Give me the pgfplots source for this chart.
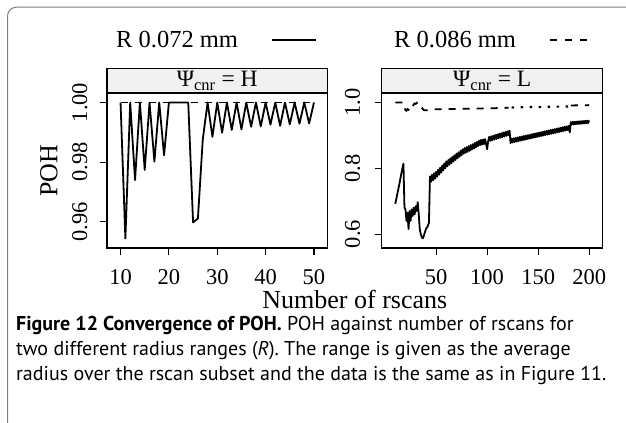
\documentclass[border=0pt]{standalone}
\usepackage{fontspec}
\setmainfont{Liberation Serif}
\newfontfamily\capfont{PT Sans}
\usepackage{pgfplots}
\pgfplotsset{compat=1.18}
\pgfplotsset{
  panel/.style={
    scale only axis, height=155bp,
    axis line style={line width=1.3bp},
    every tick/.style={line width=1.1bp, black},
    major tick length=7bp,
    tick align=outside,
    xtick pos=bottom, ytick pos=left,
    ticklabel style={font=\fontsize{22.5bp}{24bp}\selectfont},
    yticklabel style={rotate=90, anchor=south},
    xticklabel shift=11bp,
    clip=true,
  },
  dat/.style={black, line width=1.8bp, line join=round},
  datd/.style={black, line width=1.8bp, dash pattern=on 7bp off 7bp},
}
\begin{document}
\begin{tikzpicture}[x=1bp,y=1bp]
\useasboundingbox (0,0) rectangle (626,422);
% outer frame
\draw[black!50, line width=1bp, rounded corners=9bp] (7.5,-30) -- (7.5,414.8) -- (680,414.8);

% legend
\node[anchor=base west, inner sep=0, font=\fontsize{24.5bp}{26bp}\selectfont] at (116,375) {R 0.072 mm};
\draw[black, line width=1.8bp] (272,382) -- (316,382);
\node[anchor=base west, inner sep=0, font=\fontsize{24.5bp}{26bp}\selectfont] at (394,375) {R 0.086 mm};
\draw[black, line width=1.8bp, dash pattern=on 7bp off 8bp] (550,382) -- (590,382);

% strips
\draw[line width=1.3bp, fill=black!6] (107,329) rectangle (327.5,353.7);
\node[font=\fontsize{23.5bp}{24bp}\selectfont] at (217.25,341.3) {Ψ\textsubscript{cnr} = H};
\draw[line width=1.3bp, fill=black!6] (381.7,329) rectangle (602.7,353.7);
\node[font=\fontsize{23.5bp}{24bp}\selectfont] at (492.2,341.3) {Ψ\textsubscript{cnr} = L};

% left panel
\begin{axis}[panel, at={(107bp,174bp)}, anchor=south west, width=220.5bp,
  xmin=7.2, xmax=52.8, ymin=0.9512, ymax=1.0032,
  xtick={10,20,30,40,50}, xticklabels={10,20,30,40,50},
  ytick={0.96,0.98,1.00}, yticklabels={0.96,0.98,1.00},
  yticklabel shift=9bp]
\addplot[dat] coordinates {
(10,1.000)(11,0.9544)(12,1.000)(13,0.974)(14,1.000)(15,0.9774)(16,1.000)(17,0.9802)
(18,1.000)(19,0.9823)(20,1.000)(21,1.000)(22,1.000)(23,1.000)(24,1.000)(25,0.9598)
(26,0.9611)(27,0.9875)(28,1.000)(29,0.9885)(30,1.000)(31,0.9899)(32,1.000)(33,0.9908)
(34,1.000)(35,0.9910)(36,1.000)(37,0.9919)(38,1.000)(39,0.9920)(40,1.000)(41,0.9926)
(42,1.000)(43,0.9922)(44,1.000)(45,0.9927)(46,1.000)(47,0.9929)(48,1.000)(49,0.9930)(50,1.000)};
\addplot[datd] coordinates {(10,1.000)(50,1.000)};
\end{axis}

% right panel
\begin{axis}[panel, at={(381.7bp,174bp)}, anchor=south west, width=221bp,
  xmin=-3.3, xmax=213.3, ymin=0.5576, ymax=1.0289,
  xtick={50,100,150,200}, xticklabels={50,100,150,200},
  ytick={0.6,0.8,1.0}, yticklabels={0.6,0.8,1.0},
  yticklabel shift=11bp]
\addplot[dat] coordinates {
(10,0.692)(12,0.722)(14,0.752)(16,0.785)(18,0.814)(19,0.680)(20,0.675)(21,0.640)
(22,0.665)(23,0.615)(24,0.670)(25,0.640)(26,0.675)(27,0.655)(28,0.680)(29,0.660)
(30,0.685)(31,0.670)(32,0.697)(33,0.660)(34,0.615)(35,0.600)(36,0.590)(37,0.587)
(38,0.595)(39,0.605)(40,0.615)(41,0.620)(42,0.625)(43,0.635)
(44,0.7755)(45,0.7588)(46,0.7802)(47,0.7635)(48,0.7848)(49,0.7682)(50,0.7895)
(51,0.7742)(52,0.7954)(53,0.7806)(54,0.8018)(55,0.7870)(56,0.8082)(57,0.7934)(58,0.8146)(59,0.7998)(60,0.8210)
(61,0.8059)(62,0.8253)(63,0.8107)(64,0.8301)(65,0.8155)(66,0.8349)(67,0.8203)(68,0.8397)(69,0.8251)(70,0.8445)
(71,0.8303)(72,0.8486)(73,0.8349)(74,0.8531)(75,0.8394)(76,0.8577)(77,0.8440)
(78,0.8615)(79,0.8470)(80,0.8645)(81,0.8500)(82,0.8675)(83,0.8530)(84,0.8705)
(85,0.8567)(86,0.8734)(87,0.8602)(88,0.8769)(89,0.8636)(90,0.8803)(91,0.8671)(92,0.8838)(93,0.8705)
(94,0.8862)(95,0.8718)(96,0.8875)(97,0.8732)(98,0.8888)(99,0.8745)(100,0.8580)
(101,0.8815)(102,0.8955)(103,0.8834)(104,0.8974)(105,0.8853)(106,0.8993)(107,0.8872)(108,0.9012)
(109,0.8891)(110,0.9031)(111,0.8910)(112,0.9050)(113,0.8929)(114,0.9069)(115,0.8948)(116,0.9088)
(117,0.8967)(118,0.9107)(119,0.8986)(120,0.9126)(121,0.9005)(122,0.9145)(123,0.8765)
(124,0.8897)(125,0.8784)(126,0.8911)(127,0.8798)(128,0.8925)(129,0.8812)(130,0.8939)(131,0.8826)
(132,0.8953)(133,0.8840)(134,0.8967)(135,0.8854)(136,0.8981)(137,0.8868)(138,0.8995)(139,0.8882)
(140,0.9009)(141,0.8896)(142,0.9023)(143,0.8910)(144,0.9037)(145,0.8924)(146,0.9051)(147,0.8938)
(148,0.9065)(149,0.8952)(150,0.9079)(151,0.8966)(152,0.9093)(153,0.8980)(154,0.9107)(155,0.8994)
(156,0.9121)(157,0.9008)(158,0.9135)(159,0.9022)(160,0.9149)(161,0.9036)(162,0.9163)(163,0.9050)
(164,0.9177)(165,0.9064)(166,0.9191)(167,0.9078)(168,0.9205)(169,0.9092)(170,0.9219)(171,0.9106)
(172,0.9233)(173,0.9120)(174,0.9247)(175,0.9134)(176,0.9261)(177,0.9148)(178,0.9275)(179,0.9162)
(180,0.9289)(181,0.9090)
(182,0.9405)(183,0.9328)(184,0.9411)(185,0.9333)(186,0.9416)(187,0.9339)(188,0.9422)(189,0.9345)
(190,0.9427)(191,0.9350)(192,0.9433)(193,0.9356)(194,0.9439)(195,0.9361)(196,0.9444)(197,0.9367)
(198,0.9450)(199,0.9373)(200,0.9455)};
\addplot[datd] coordinates {
(10,1.000)(17,1.000)(18,0.999)(19,0.985)(20,0.977)(21,0.975)(22,0.980)(23,0.978)
(24,0.983)(25,0.981)(26,0.988)(27,0.986)(28,0.994)(29,0.997)(30,0.996)(31,0.999)
(32,0.993)(33,0.995)(34,0.990)(35,0.989)(36,0.984)(37,0.980)(38,0.977)(40,0.976)
(45,0.979)(60,0.980)(80,0.981)(100,0.982)(121,0.984)};
\addplot[black, line width=2.2bp, dash pattern=on 2.5bp off 6.5bp] coordinates {
(124,0.985)(140,0.986)(160,0.987)(180,0.988)};
\addplot[datd] coordinates {(182,0.991)(200,0.992)};
\end{axis}

% axis titles
\node[font=\fontsize{26bp}{28bp}\selectfont] at (354.8,122.5) {Number of rscans};
\node[rotate=90, font=\fontsize{26bp}{28bp}\selectfont] at (49,251.5) {POH};

% caption
\begin{scope}[every node/.style={anchor=base west, inner sep=0, font=\capfont\fontsize{20bp}{24bp}\selectfont}]
\node at (16,92) {\textbf{Figure 12 Convergence of POH.} POH against number of rscans for};
\node at (16,66.5) {two different radius ranges (\textit{R}). The range is given as the average};
\node at (16,42) {radius over the rscan subset and the data is the same as in Figure 11.};
\end{scope}
\end{tikzpicture}
\end{document}
